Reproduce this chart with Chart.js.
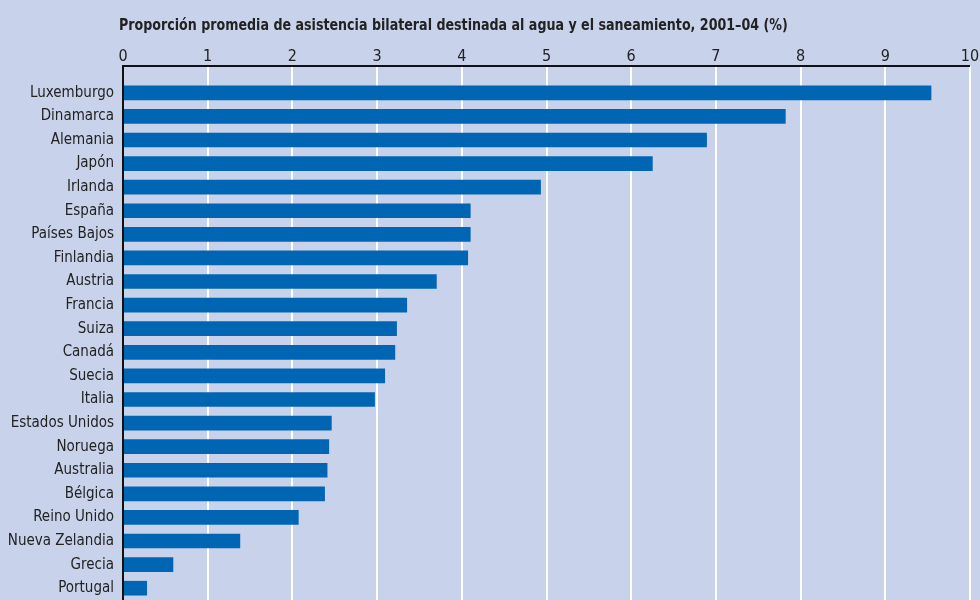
<!DOCTYPE html>
<html>
<head>
<script src="https://cdn.jsdelivr.net/npm/chart.js@4.4.1/dist/chart.umd.min.js"></script>
<style>
  html, body { margin: 0; padding: 0; background: #c8d3eb; overflow: hidden; }
  #wrap { width: 980px; height: 600px; }
</style>
</head>
<body>
<div id="wrap"><canvas id="myChart" width="980" height="600"></canvas></div>
<script>
  const countries = ["Luxemburgo", "Dinamarca", "Alemania", "Japón", "Irlanda", "España",
    "Países Bajos", "Finlandia", "Austria", "Francia", "Suiza", "Canadá", "Suecia", "Italia",
    "Estados Unidos", "Noruega", "Australia", "Bélgica", "Reino Unido", "Nueva Zelandia",
    "Grecia", "Portugal"];
  const shares = [9.54, 7.82, 6.89, 6.25, 4.93, 4.10, 4.10, 4.07, 3.70, 3.35, 3.23, 3.21,
    3.09, 2.97, 2.46, 2.43, 2.41, 2.38, 2.07, 1.38, 0.59, 0.28];
  const titleText = "Proporción promedia de asistencia bilateral destinada al agua y el saneamiento, 2001–04 (%)";

  const FONT = "'DejaVu Sans Condensed', 'Liberation Sans', sans-serif";
  const GAP = 15; // space between the top axis line and the plot area

  // title and the black axis lines sit a bit outside the plot area
  const framePlugin = {
    id: "frame",
    afterDraw(chart) {
      const { ctx, chartArea } = chart;
      const top = chartArea.top - GAP;
      ctx.save();
      ctx.strokeStyle = "#111";
      ctx.lineWidth = 2;
      ctx.beginPath();
      ctx.moveTo(chartArea.left, top);
      ctx.lineTo(chartArea.right, top);
      ctx.moveTo(chartArea.left, top - 1);
      ctx.lineTo(chartArea.left, chartArea.bottom);
      ctx.stroke();
      ctx.fillStyle = "#222";
      ctx.font = "bold 16px " + FONT;
      ctx.textBaseline = "alphabetic";
      ctx.translate(119, 30);
      ctx.scale(0.88, 1);
      ctx.fillText(titleText, 0, 0);
      ctx.restore();
    }
  };

  new Chart("myChart", {
    type: "bar",
    data: {
      labels: countries,
      datasets: [{
        data: shares,
        backgroundColor: "#0066b3",
        barThickness: 14,
        borderWidth: 0
      }]
    },
    options: {
      indexAxis: "y",
      responsive: false,
      animation: false,
      layout: { padding: { top: 0, right: 10, left: 0, bottom: 0 } },
      plugins: { legend: { display: false }, tooltip: { enabled: false } },
      scales: {
        x: {
          position: "top",
          min: 0,
          max: 10,
          ticks: { stepSize: 1, color: "#222", padding: 0, font: { family: FONT, size: 16 } },
          grid: { color: "#ffffff", lineWidth: 2, tickLength: GAP, tickColor: "#ffffff", tickWidth: 2 },
          border: { display: false },
          afterFit(scale) { scale.height = 81; scale.paddingLeft = 0; scale.paddingRight = 0; }
        },
        y: {
          ticks: { color: "#222", padding: 9, font: { family: FONT, size: 15 } },
          grid: { display: false, drawTicks: false },
          border: { display: false },
          afterFit(scale) { scale.width = 123; scale.paddingTop = 0; scale.paddingBottom = 0; }
        }
      }
    },
    plugins: [framePlugin]
  });
</script>
</body>
</html>
